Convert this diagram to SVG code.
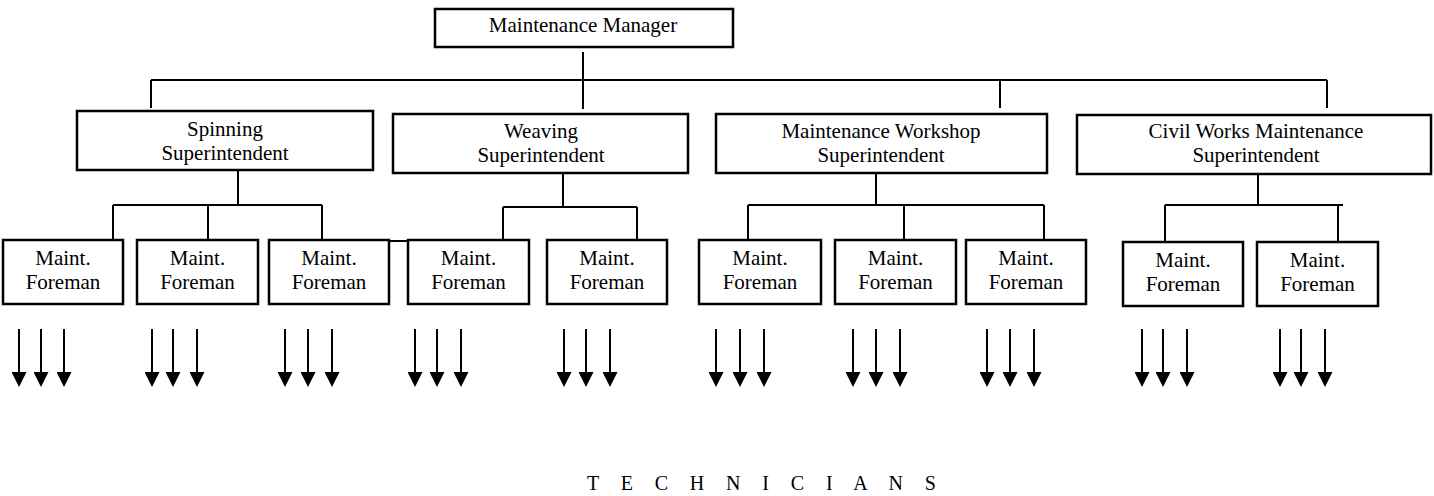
<svg xmlns="http://www.w3.org/2000/svg" width="1434" height="496" viewBox="0 0 1434 496">
<style>
.box{fill:#fff;stroke:#000;stroke-width:2.5}
.t{font-family:"Liberation Serif","Times New Roman",serif;font-size:21px;fill:#000;text-anchor:middle}
.c{fill:none;stroke:#000;stroke-width:2}
.a{stroke:#000;stroke-width:2;marker-end:url(#ah)}
</style>
<defs>
<marker id="ah" viewBox="0 0 15 15" refX="0" refY="7.5" markerWidth="15" markerHeight="15" markerUnits="userSpaceOnUse" orient="auto">
<path d="M0,0 L15,7.5 L0,15 z" fill="#000"/>
</marker>
</defs>
<rect width="1434" height="496" fill="#fff"/>
<g id="connectors">
<path class="c" d="M583,52 V109 M151,80 H1327 M151,80 V108 M1000,80 V108 M1327,80 V108"/>
<path class="c" d="M238,170 V205 M113,205 H322 M113,205 V240 M208,205 V240 M322,205 V240 M389,241 H408"/>
<path class="c" d="M563,173 V207 M503,207 H637 M503,207 V243 M637,207 V240"/>
<path class="c" d="M876,173 V205 M748,205 H1044 M748,205 V240 M904,205 V240 M1044,205 V240"/>
<path class="c" d="M1258,174 V205 M1165,205 H1343 M1165,205 V242 M1338,205 V242"/>
</g>
<g id="manager"><rect class="box" x="435" y="9" width="298" height="38"/><text class="t" x="583" y="32">Maintenance Manager</text></g>
<g id="spinning"><rect class="box" x="77" y="111" width="296" height="59"/><text class="t" x="225" y="136">Spinning</text><text class="t" x="225" y="160">Superintendent</text></g>
<g id="weaving"><rect class="box" x="393" y="114" width="295" height="59"/><text class="t" x="541" y="138">Weaving</text><text class="t" x="541" y="162">Superintendent</text></g>
<g id="workshop"><rect class="box" x="716" y="114" width="331" height="59"/><text class="t" x="881" y="138">Maintenance Workshop</text><text class="t" x="881" y="162">Superintendent</text></g>
<g id="civil"><rect class="box" x="1077" y="115" width="354" height="59"/><text class="t" x="1256" y="138">Civil Works Maintenance</text><text class="t" x="1256" y="162">Superintendent</text></g>
<g id="f1"><rect class="box" x="3" y="240" width="120" height="64"/><text class="t" x="63" y="265">Maint.</text><text class="t" x="63" y="289">Foreman</text></g>
<g id="f2"><rect class="box" x="137" y="240" width="121" height="64"/><text class="t" x="197.5" y="265">Maint.</text><text class="t" x="197.5" y="289">Foreman</text></g>
<g id="f3"><rect class="box" x="269" y="240" width="120" height="64"/><text class="t" x="329" y="265">Maint.</text><text class="t" x="329" y="289">Foreman</text></g>
<g id="f4"><rect class="box" x="408" y="240" width="121" height="64"/><text class="t" x="468.5" y="265">Maint.</text><text class="t" x="468.5" y="289">Foreman</text></g>
<g id="f5"><rect class="box" x="547" y="240" width="120" height="64"/><text class="t" x="607" y="265">Maint.</text><text class="t" x="607" y="289">Foreman</text></g>
<g id="f6"><rect class="box" x="699" y="240" width="122" height="64"/><text class="t" x="760" y="265">Maint.</text><text class="t" x="760" y="289">Foreman</text></g>
<g id="f7"><rect class="box" x="835" y="240" width="121" height="64"/><text class="t" x="895.5" y="265">Maint.</text><text class="t" x="895.5" y="289">Foreman</text></g>
<g id="f8"><rect class="box" x="966" y="240" width="120" height="64"/><text class="t" x="1026" y="265">Maint.</text><text class="t" x="1026" y="289">Foreman</text></g>
<g id="f9"><rect class="box" x="1123" y="242" width="120" height="64"/><text class="t" x="1183" y="267">Maint.</text><text class="t" x="1183" y="291">Foreman</text></g>
<g id="f10"><rect class="box" x="1257" y="242" width="121" height="64"/><text class="t" x="1317.5" y="267">Maint.</text><text class="t" x="1317.5" y="291">Foreman</text></g>
<g id="arrows">
<line class="a" x1="19" y1="329" x2="19" y2="372"/><line class="a" x1="41" y1="329" x2="41" y2="372"/><line class="a" x1="64" y1="329" x2="64" y2="372"/>
<line class="a" x1="152" y1="329" x2="152" y2="372"/><line class="a" x1="173" y1="329" x2="173" y2="372"/><line class="a" x1="197" y1="329" x2="197" y2="372"/>
<line class="a" x1="285" y1="329" x2="285" y2="372"/><line class="a" x1="308" y1="329" x2="308" y2="372"/><line class="a" x1="332" y1="329" x2="332" y2="372"/>
<line class="a" x1="415" y1="329" x2="415" y2="372"/><line class="a" x1="437" y1="329" x2="437" y2="372"/><line class="a" x1="461" y1="329" x2="461" y2="372"/>
<line class="a" x1="564" y1="329" x2="564" y2="372"/><line class="a" x1="586" y1="329" x2="586" y2="372"/><line class="a" x1="610" y1="329" x2="610" y2="372"/>
<line class="a" x1="716" y1="329" x2="716" y2="372"/><line class="a" x1="740" y1="329" x2="740" y2="372"/><line class="a" x1="764" y1="329" x2="764" y2="372"/>
<line class="a" x1="853" y1="329" x2="853" y2="372"/><line class="a" x1="876" y1="329" x2="876" y2="372"/><line class="a" x1="900" y1="329" x2="900" y2="372"/>
<line class="a" x1="987" y1="329" x2="987" y2="372"/><line class="a" x1="1010" y1="329" x2="1010" y2="372"/><line class="a" x1="1034" y1="329" x2="1034" y2="372"/>
<line class="a" x1="1142" y1="329" x2="1142" y2="372"/><line class="a" x1="1163" y1="329" x2="1163" y2="372"/><line class="a" x1="1187" y1="329" x2="1187" y2="372"/>
<line class="a" x1="1280" y1="329" x2="1280" y2="372"/><line class="a" x1="1301" y1="329" x2="1301" y2="372"/><line class="a" x1="1325" y1="329" x2="1325" y2="372"/>
</g>
<text id="technicians" x="587" y="490" style="font-family:'Liberation Serif','Times New Roman',serif;font-size:20px;letter-spacing:8.4px" fill="#000">T E C H N I C I A N S</text>
</svg>
